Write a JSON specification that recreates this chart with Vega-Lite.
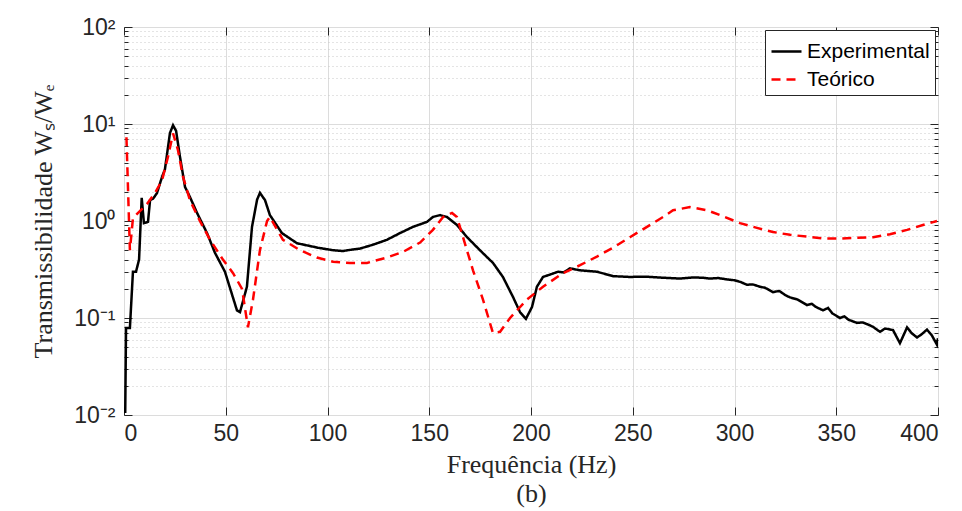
{
  "$schema": "https://vega.github.io/schema/vega-lite/v6.json",
  "autosize": {"type": "none"},
  "padding": {"left": 124, "top": 27, "right": 24, "bottom": 96},
  "width": 814,
  "height": 388,
  "background": "white",
  "config": {
    "view": {"stroke": "#262626", "strokeWidth": 1},
    "axis": {"labelFont": "Liberation Sans", "labelFontSize": 23, "labelColor": "#262626", "titleFont": "Liberation Serif", "titleFontSize": 26, "titleFontWeight": "normal", "titleColor": "#262626", "domainColor": "#262626", "tickColor": "#262626"}
  },
  "data": {"values": [
    {"f":0.6,"T":0.0105,"s":"Experimental"},{"f":1.0,"T":0.079,"s":"Experimental"},{"f":2.9,"T":0.079,"s":"Experimental"},{"f":4.4,"T":0.30,"s":"Experimental"},{"f":5.9,"T":0.30,"s":"Experimental"},{"f":7.4,"T":0.40,"s":"Experimental"},{"f":8.7,"T":1.73,"s":"Experimental"},{"f":9.8,"T":0.95,"s":"Experimental"},{"f":11.8,"T":0.98,"s":"Experimental"},{"f":12.8,"T":1.64,"s":"Experimental"},{"f":14.3,"T":1.7,"s":"Experimental"},{"f":16.2,"T":1.94,"s":"Experimental"},{"f":18.7,"T":2.85,"s":"Experimental"},{"f":20.1,"T":3.4,"s":"Experimental"},{"f":22.6,"T":8.1,"s":"Experimental"},{"f":24.1,"T":9.7,"s":"Experimental"},{"f":25.6,"T":8.5,"s":"Experimental"},{"f":27.5,"T":4.6,"s":"Experimental"},{"f":30,"T":2.24,"s":"Experimental"},{"f":32.4,"T":1.77,"s":"Experimental"},{"f":35.9,"T":1.21,"s":"Experimental"},{"f":40.8,"T":0.75,"s":"Experimental"},{"f":44.7,"T":0.47,"s":"Experimental"},{"f":49.6,"T":0.30,"s":"Experimental"},{"f":55.5,"T":0.12,"s":"Experimental"},{"f":57,"T":0.115,"s":"Experimental"},{"f":60.4,"T":0.21,"s":"Experimental"},{"f":62.9,"T":0.87,"s":"Experimental"},{"f":65.4,"T":1.66,"s":"Experimental"},{"f":66.8,"T":1.95,"s":"Experimental"},{"f":69.3,"T":1.64,"s":"Experimental"},{"f":71.7,"T":1.15,"s":"Experimental"},{"f":77.6,"T":0.75,"s":"Experimental"},{"f":85,"T":0.59,"s":"Experimental"},{"f":95.3,"T":0.53,"s":"Experimental"},{"f":102.7,"T":0.50,"s":"Experimental"},{"f":107.6,"T":0.49,"s":"Experimental"},{"f":110,"T":0.5,"s":"Experimental"},{"f":116,"T":0.52,"s":"Experimental"},{"f":122.4,"T":0.57,"s":"Experimental"},{"f":129.2,"T":0.64,"s":"Experimental"},{"f":135.6,"T":0.75,"s":"Experimental"},{"f":142,"T":0.87,"s":"Experimental"},{"f":148.9,"T":0.98,"s":"Experimental"},{"f":151.8,"T":1.1,"s":"Experimental"},{"f":155.3,"T":1.15,"s":"Experimental"},{"f":158.7,"T":1.1,"s":"Experimental"},{"f":163.6,"T":0.91,"s":"Experimental"},{"f":168.6,"T":0.68,"s":"Experimental"},{"f":174.9,"T":0.50,"s":"Experimental"},{"f":181.3,"T":0.37,"s":"Experimental"},{"f":186.2,"T":0.265,"s":"Experimental"},{"f":191.2,"T":0.164,"s":"Experimental"},{"f":194.6,"T":0.115,"s":"Experimental"},{"f":197.5,"T":0.098,"s":"Experimental"},{"f":200.5,"T":0.13,"s":"Experimental"},{"f":202.9,"T":0.21,"s":"Experimental"},{"f":205.9,"T":0.265,"s":"Experimental"},{"f":209.3,"T":0.28,"s":"Experimental"},{"f":213.3,"T":0.30,"s":"Experimental"},{"f":216,"T":0.295,"s":"Experimental"},{"f":219.2,"T":0.325,"s":"Experimental"},{"f":224.1,"T":0.31,"s":"Experimental"},{"f":232.4,"T":0.30,"s":"Experimental"},{"f":240.3,"T":0.27,"s":"Experimental"},{"f":248.6,"T":0.265,"s":"Experimental"},{"f":256,"T":0.267,"s":"Experimental"},{"f":264.9,"T":0.26,"s":"Experimental"},{"f":273.2,"T":0.255,"s":"Experimental"},{"f":280,"T":0.262,"s":"Experimental"},{"f":284.5,"T":0.26,"s":"Experimental"},{"f":288,"T":0.255,"s":"Experimental"},{"f":292,"T":0.258,"s":"Experimental"},{"f":296.3,"T":0.25,"s":"Experimental"},{"f":300,"T":0.245,"s":"Experimental"},{"f":303,"T":0.235,"s":"Experimental"},{"f":306.1,"T":0.22,"s":"Experimental"},{"f":309,"T":0.222,"s":"Experimental"},{"f":312.5,"T":0.21,"s":"Experimental"},{"f":315,"T":0.205,"s":"Experimental"},{"f":318.9,"T":0.185,"s":"Experimental"},{"f":322,"T":0.19,"s":"Experimental"},{"f":325,"T":0.172,"s":"Experimental"},{"f":327.3,"T":0.163,"s":"Experimental"},{"f":331,"T":0.155,"s":"Experimental"},{"f":335.6,"T":0.136,"s":"Experimental"},{"f":338,"T":0.14,"s":"Experimental"},{"f":340,"T":0.13,"s":"Experimental"},{"f":343.5,"T":0.12,"s":"Experimental"},{"f":346,"T":0.127,"s":"Experimental"},{"f":348,"T":0.112,"s":"Experimental"},{"f":351.8,"T":0.10,"s":"Experimental"},{"f":354,"T":0.104,"s":"Experimental"},{"f":356,"T":0.096,"s":"Experimental"},{"f":360.2,"T":0.089,"s":"Experimental"},{"f":363,"T":0.09,"s":"Experimental"},{"f":366,"T":0.085,"s":"Experimental"},{"f":368.1,"T":0.081,"s":"Experimental"},{"f":371.5,"T":0.072,"s":"Experimental"},{"f":374,"T":0.078,"s":"Experimental"},{"f":377.9,"T":0.075,"s":"Experimental"},{"f":381.3,"T":0.055,"s":"Experimental"},{"f":384.8,"T":0.08,"s":"Experimental"},{"f":387,"T":0.07,"s":"Experimental"},{"f":389.7,"T":0.063,"s":"Experimental"},{"f":392,"T":0.068,"s":"Experimental"},{"f":394.6,"T":0.076,"s":"Experimental"},{"f":397,"T":0.066,"s":"Experimental"},{"f":399.5,"T":0.053,"s":"Experimental"},{"f":400,"T":0.062,"s":"Experimental"},
    {"f":1.2,"T":7.3,"s":"Teórico"},{"f":2.9,"T":0.5,"s":"Teórico"},{"f":4.4,"T":1.07,"s":"Teórico"},{"f":11.3,"T":1.5,"s":"Teórico"},{"f":15.2,"T":1.94,"s":"Teórico"},{"f":18.7,"T":2.63,"s":"Teórico"},{"f":21.6,"T":4.57,"s":"Teórico"},{"f":24.1,"T":8.0,"s":"Teórico"},{"f":26.5,"T":5.4,"s":"Teórico"},{"f":29,"T":2.85,"s":"Teórico"},{"f":32.4,"T":1.64,"s":"Teórico"},{"f":37.3,"T":1.0,"s":"Teórico"},{"f":42.3,"T":0.64,"s":"Teórico"},{"f":48.6,"T":0.40,"s":"Teórico"},{"f":53.6,"T":0.29,"s":"Teórico"},{"f":58,"T":0.2,"s":"Teórico"},{"f":60.9,"T":0.08,"s":"Teórico"},{"f":63.4,"T":0.155,"s":"Teórico"},{"f":66.8,"T":0.50,"s":"Teórico"},{"f":70.3,"T":1.0,"s":"Teórico"},{"f":71.7,"T":1.1,"s":"Teórico"},{"f":78.1,"T":0.64,"s":"Teórico"},{"f":86.5,"T":0.5,"s":"Teórico"},{"f":94.8,"T":0.42,"s":"Teórico"},{"f":102.7,"T":0.38,"s":"Teórico"},{"f":111,"T":0.37,"s":"Teórico"},{"f":119.4,"T":0.37,"s":"Teórico"},{"f":129.2,"T":0.42,"s":"Teórico"},{"f":137.1,"T":0.48,"s":"Teórico"},{"f":145.5,"T":0.6,"s":"Teórico"},{"f":151.8,"T":0.81,"s":"Teórico"},{"f":156.8,"T":1.1,"s":"Teórico"},{"f":161.2,"T":1.21,"s":"Teórico"},{"f":163.6,"T":1.1,"s":"Teórico"},{"f":166.6,"T":0.68,"s":"Teórico"},{"f":171.5,"T":0.31,"s":"Teórico"},{"f":176.4,"T":0.155,"s":"Teórico"},{"f":181.3,"T":0.07,"s":"Teórico"},{"f":184.8,"T":0.072,"s":"Teórico"},{"f":189.7,"T":0.10,"s":"Teórico"},{"f":198,"T":0.155,"s":"Teórico"},{"f":205.9,"T":0.21,"s":"Teórico"},{"f":215.7,"T":0.29,"s":"Teórico"},{"f":224.1,"T":0.35,"s":"Teórico"},{"f":232.4,"T":0.43,"s":"Teórico"},{"f":240.3,"T":0.53,"s":"Teórico"},{"f":248.6,"T":0.68,"s":"Teórico"},{"f":257,"T":0.87,"s":"Teórico"},{"f":264.9,"T":1.1,"s":"Teórico"},{"f":269.8,"T":1.29,"s":"Teórico"},{"f":278.1,"T":1.39,"s":"Teórico"},{"f":286.5,"T":1.29,"s":"Teórico"},{"f":294.3,"T":1.12,"s":"Teórico"},{"f":302.7,"T":0.95,"s":"Teórico"},{"f":311,"T":0.85,"s":"Teórico"},{"f":318.9,"T":0.77,"s":"Teórico"},{"f":327.3,"T":0.72,"s":"Teórico"},{"f":335.6,"T":0.69,"s":"Teórico"},{"f":343.5,"T":0.66,"s":"Teórico"},{"f":351.8,"T":0.66,"s":"Teórico"},{"f":360.2,"T":0.67,"s":"Teórico"},{"f":368.1,"T":0.68,"s":"Teórico"},{"f":376.4,"T":0.73,"s":"Teórico"},{"f":384.8,"T":0.81,"s":"Teórico"},{"f":392.6,"T":0.91,"s":"Teórico"},{"f":399.5,"T":1.0,"s":"Teórico"}
  ]},
  "layer": [
    {
      "mark": {"type": "line", "strokeWidth": 2.5, "clip": true},
      "encoding": {
        "x": {"field": "f", "type": "quantitative", "scale": {"domain": [0, 400], "nice": false, "zero": false},
          "axis": {"title": ["Frequência (Hz)", "(b)"], "titleLineHeight": 29, "values": [0,50,100,150,200,250,300,350,400], "grid": true, "gridColor": "#dcdcdc", "gridWidth": 1, "tickSize": -8, "labelPadding": 15, "titlePadding": 6, "domain": false}},
        "y": {"field": "T", "type": "quantitative", "scale": {"type": "log", "domain": [0.01, 100], "nice": false},
          "axis": {"title": "Transmissibilidade  Wₛ/Wₑ", "titlePadding": 17,
            "values": [0.01,0.02,0.03,0.04,0.05,0.06,0.07,0.08,0.09,0.1,0.2,0.3,0.4,0.5,0.6,0.7,0.8,0.9,1,2,3,4,5,6,7,8,9,10,20,30,40,50,60,70,80,90,100],
            "labelExpr": "datum.value==100?'10²':datum.value==10?'10¹':datum.value==1?'10⁰':datum.value==0.1?'10⁻¹':datum.value==0.01?'10⁻²':''",
            "grid": true,
            "gridColor": {"condition": {"test": "abs(log(datum.value)/LN10 - round(log(datum.value)/LN10)) < 0.001", "value": "#dcdcdc"}, "value": "#c8c8c8"},
            "gridDash": {"condition": {"test": "abs(log(datum.value)/LN10 - round(log(datum.value)/LN10)) < 0.001", "value": []}, "value": [1, 3]},
            "tickSize": {"condition": {"test": "abs(log(datum.value)/LN10 - round(log(datum.value)/LN10)) < 0.001", "value": -8}, "value": -4},
            "labelPadding": 17, "labelBound": false, "labelOverlap": false, "domain": false}},
        "color": {"field": "s", "type": "nominal", "scale": {"domain": ["Experimental", "Teórico"], "range": ["#000000", "#ff0000"]},
          "legend": {"title": null, "orient": "top-right", "offset": 3, "strokeColor": "#262626", "fillColor": "white", "padding": 5, "rowPadding": 1, "symbolType": "stroke", "symbolSize": 900, "symbolStrokeWidth": 2.5, "labelFont": "Liberation Sans", "labelFontSize": 21, "labelColor": "#000000", "labelOffset": 4, "cornerRadius": 0}},
        "strokeDash": {"field": "s", "type": "nominal", "scale": {"domain": ["Experimental", "Teórico"], "range": [[1, 0], [9, 6]]},
          "legend": {"title": null, "orient": "top-right", "offset": 3, "strokeColor": "#262626", "fillColor": "white", "padding": 5, "rowPadding": 1, "symbolType": "stroke", "symbolSize": 900, "symbolStrokeWidth": 2.5, "labelFont": "Liberation Sans", "labelFontSize": 21, "labelColor": "#000000", "labelOffset": 4, "cornerRadius": 0}}
      }
    },
    {
      "mark": {"type": "point", "opacity": 0},
      "encoding": {
        "x": {"field": "f", "type": "quantitative", "axis": {"orient": "top", "title": null, "labels": false, "values": [0,50,100,150,200,250,300,350,400], "tickSize": -8, "grid": false, "domain": false}},
        "y": {"field": "T", "type": "quantitative", "axis": {"orient": "right", "title": null, "labels": false, "grid": false, "domain": false,
          "values": [0.01,0.02,0.03,0.04,0.05,0.06,0.07,0.08,0.09,0.1,0.2,0.3,0.4,0.5,0.6,0.7,0.8,0.9,1,2,3,4,5,6,7,8,9,10,20,30,40,50,60,70,80,90,100],
          "tickSize": {"condition": {"test": "abs(log(datum.value)/LN10 - round(log(datum.value)/LN10)) < 0.001", "value": -8}, "value": -4}}}
      }
    }
  ],
  "resolve": {"axis": {"x": "independent", "y": "independent"}}
}
